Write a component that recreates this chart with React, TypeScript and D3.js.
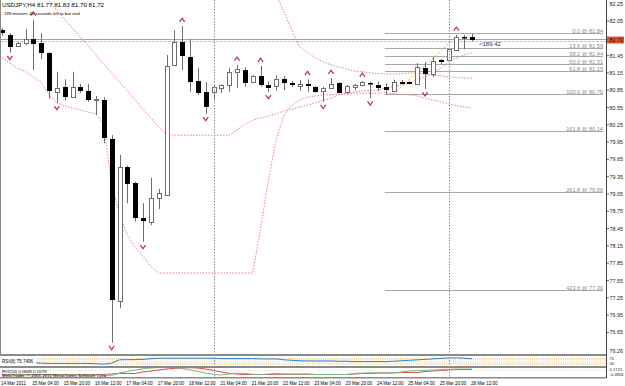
import React from "react";
import * as d3 from "d3";

// ---------- data ----------
const open = [81.89, 81.81, 81.62, 81.67, 81.74, 81.67, 81.5, 80.82, 80.91, 80.73, 80.91, 80.84, 80.68, 80.68, 80.0, 77.2, 79.52, 79.24, 78.63, 78.57, 78.98, 79.03, 81.29, 81.69, 81.43, 81.01, 80.82, 80.82, 80.89, 80.95, 81.16, 81.2, 81.0, 81.1, 80.94, 80.91, 81.04, 80.98, 80.91, 80.95, 80.9, 80.82, 80.88, 80.98, 80.81, 80.9, 80.94, 80.98, 80.94, 80.91, 80.85, 81.0, 81.0, 80.96, 81.23, 81.13, 81.37, 81.37, 81.55, 81.77, 81.77];
const high = [81.93, 81.84, 81.69, 81.91, 82.07, 81.84, 81.51, 81.17, 81.04, 81.17, 80.96, 80.96, 80.75, 80.73, 80.07, 79.73, 79.54, 79.26, 78.89, 79.33, 79.14, 81.46, 81.89, 81.96, 81.74, 81.24, 80.99, 80.94, 80.95, 81.24, 81.29, 81.25, 81.11, 81.27, 81.0, 81.11, 81.1, 81.01, 81.03, 81.04, 80.92, 80.91, 81.06, 80.99, 80.94, 80.96, 81.01, 81.0, 81.0, 80.97, 81.03, 81.03, 81.01, 81.32, 81.34, 81.42, 81.39, 81.58, 81.81, 81.81, 81.83];
const low = [81.79, 81.5, 81.6, 81.63, 81.2, 81.39, 80.7, 80.63, 80.68, 80.72, 80.8, 80.65, 80.42, 79.93, 76.47, 77.07, 78.89, 78.57, 78.22, 78.51, 78.79, 79.02, 81.27, 81.2, 80.82, 80.77, 80.44, 80.68, 80.8, 80.82, 80.89, 80.91, 80.97, 80.91, 80.82, 80.84, 80.85, 80.91, 80.84, 80.82, 80.81, 80.65, 80.87, 80.8, 80.78, 80.85, 80.92, 80.71, 80.84, 80.78, 80.84, 80.96, 80.96, 80.94, 80.87, 81.08, 81.3, 81.36, 81.53, 81.56, 81.7];
const close = [81.83, 81.6, 81.67, 81.74, 81.65, 81.5, 80.84, 80.89, 80.73, 80.91, 80.84, 80.68, 80.7, 80.02, 77.21, 79.52, 79.22, 78.63, 78.58, 78.98, 79.06, 81.27, 81.69, 81.44, 81.0, 80.8, 80.56, 80.91, 80.94, 81.17, 81.21, 80.98, 81.1, 80.94, 80.88, 81.04, 80.97, 80.94, 80.95, 80.91, 80.82, 80.88, 80.95, 80.81, 80.92, 80.94, 80.99, 80.97, 80.89, 80.85, 81.0, 80.97, 80.97, 81.26, 81.13, 81.36, 81.33, 81.56, 81.78, 81.75, 81.72];

const fractalUp = [4, 23, 30, 33, 39, 42, 46, 58];
const fractalDown = [1, 7, 14, 18, 26, 34, 41, 47, 54];

const N = null;
const bandA = [N, N, N, N, N, 82.55, 82.4, 82.24, 82.08, 81.93, 81.77, 81.62, 81.46, 81.3, 81.15, 80.99, 80.84, 80.68, 80.52, 80.37, 80.21, 80.09, 80.07, 80.07, 80.07, 80.07, 80.07, 80.07, 80.07, 80.07, 80.16, 80.26, 80.33, 80.37, 80.4, 80.44, 80.49, 80.52, 80.56, 80.59, 80.63, 80.68, 80.71, 80.77, 80.8, 80.82, 80.84, 80.845, 80.85, 80.89, 80.91, 80.94, 80.97, 81.03, 81.08, 81.15, 81.23, 81.34, 81.41, 81.46, 81.5];
const bandB = [81.41, 81.32, 81.23, 81.17, 81.08, 80.99, 80.77, 80.63, 80.58, 80.54, 80.51, 80.47, 80.44, 80.25, 79.21, 78.69, 78.34, 78.13, 77.97, 77.8, 77.68, 77.68, 77.68, 77.68, 77.68, 77.68, 77.68, 77.68, 77.68, 77.68, 77.68, 77.68, 77.68, 78.43, 79.29, 79.99, 80.42, 80.59, 80.68, 80.73, 80.75, 80.77, 80.77, 80.78, 80.78, 80.8, 80.8, 80.8, 80.8, 80.8, 80.79, 80.78, 80.77, 80.75, 80.71, 80.68, 80.65, 80.61, 80.585, 80.56, 80.54];
const bandC = [N, N, N, N, N, N, N, N, N, N, N, N, N, N, N, N, N, N, N, N, N, N, N, N, N, N, N, N, N, N, N, N, N, N, N, 82.5, 82.21, 81.89, 81.6, 81.5, 81.41, 81.34, 81.29, 81.25, 81.22, 81.18, 81.17, 81.15, 81.14, 81.13, 81.13, 81.14, 81.15, 81.15, 81.13, 81.11, 81.1, 81.08, 81.07, 81.06, 81.06];

const rsi = [35, 35, 35, 35, 33, 30, 27, 27, 27, 27, 27, 27, 23, 20, 30, 65, 67, 67, 70, 77, 82, 82, 82, 82, 82, 82, 82, 82, 78, 78, 78, 78, 78, 75, 75, 75, 65, 60, 55, 53, 53, 53, 53, 50, 50, 47, 47, 47, 47, 47, 50, 55, 60, 65, 70, 75, 80, 85, 86, 82, 76];
const rsiLevels = [20, 30, 50, 70, 80];
const rviMain = [-0.343, -0.343, -0.343, -0.343, -0.343, -0.343, -0.343, -0.343, -0.343, -0.343, -0.343, -0.343, -0.343, -0.343, -0.38, -0.197, -0.087, 0.023, 0.119, 0.17, 0.207, 0.221, 0.207, 0.133, 0.023, -0.087, -0.197, -0.306, -0.343, -0.27, -0.218, -0.233, -0.292, -0.306, -0.27, -0.233, -0.27, -0.27, -0.27, -0.27, -0.306, -0.306, -0.306, -0.306, -0.306, -0.233, -0.197, -0.182, -0.182, -0.182, -0.182, -0.123, -0.05, -0.013, 0.001, 0.023, 0.045, 0.075, 0.097, 0.097, 0.097];
const rviSignal = [-0.306, -0.306, -0.306, -0.306, -0.306, -0.306, -0.306, -0.306, -0.306, -0.306, -0.306, -0.306, -0.306, -0.306, -0.27, -0.233, -0.233, -0.233, -0.123, -0.05, 0.023, 0.097, 0.148, 0.17, 0.192, 0.17, 0.097, -0.013, -0.123, -0.218, -0.27, -0.306, -0.306, -0.306, -0.306, -0.292, -0.292, -0.292, -0.292, -0.292, -0.306, -0.306, -0.306, -0.306, -0.306, -0.27, -0.233, -0.233, -0.197, -0.197, -0.197, -0.16, -0.16, -0.16, -0.087, -0.05, -0.013, 0.023, 0.06, 0.06, 0.06];

const timeTickBars = [0, 4, 8, 12, 16, 20, 24, 28, 32, 36, 40, 44, 48, 52, 56, 60];
const timeTickText = ["14 Mar 2011", "15 Mar 04:00", "15 Mar 20:00", "16 Mar 12:00", "17 Mar 04:00", "17 Mar 20:00", "18 Mar 12:00", "21 Mar 04:00", "21 Mar 20:00", "22 Mar 12:00", "23 Mar 04:00", "23 Mar 20:00", "24 Mar 12:00", "25 Mar 04:00", "25 Mar 20:00", "28 Mar 12:00"];
const separatorBars = [27, 57];

const priceTicks = [82.05, 81.75, 81.45, 81.15, 80.85, 80.55, 80.25, 79.95, 79.65, 79.35, 79.05, 78.75, 78.45, 78.15, 77.85, 77.55, 77.25, 76.95, 76.65];
const chartMax = "82.25";
const chartMin = "76.26";
const bid = 81.72;

const fibLevels = [0, 23.6, 38.2, 50, 61.8, 100, 161.8, 261.8, 423.6];
const fibPrices = [81.84, 81.59, 81.44, 81.31, 81.19, 80.79, 80.14, 79.09, 77.39];
const fibStartBar = 49;
const fibTrendBars = [50, 58.5];
const fibTrendPrices = [80.79, 81.84];

const title = "USDJPY,H4  81.77 81.83 81.70 81.72";
const subtitle = "189 minutes 42 seconds left to bar end";
const pipText = "<189.42";
const rsiLabel = "RSI(8) 75.7496";
const rviLabel = "RVI(10) 0.0848 0.1679";
const copyright = "MetaTrader, \u00a9 2001-2011 MetaQuotes Software Corp.";
const rviTicks = ["0.1721", "-0.4906"];

// ---------- layout ----------
const W = 625, H = 386;
const AXIS_X = 606;
const MAIN_BOTTOM = 354;
const RSI_TOP = 356.5, RSI_BOTTOM = 366;
const RVI_TOP = 368, RVI_BOTTOM = 377;
const FONT = "'Liberation Sans', Arial, sans-serif";

export default function App() {
  const x = d3.scaleLinear().domain([0, 60]).range([2, 472]);
  const y = d3.scaleLinear().domain([82.05, 76.35]).range([21, 349.7]);
  const yr = d3.scaleLinear().domain([0, 100]).range([RSI_BOTTOM, RSI_TOP]);
  const yv = d3.scaleLinear().domain([-0.4906, 0.1721]).range([RVI_BOTTOM, RVI_TOP]);
  const cx = (i: number) => Math.round(x(i)) + 0.5;

  const bandLine = d3
    .line<number | null>()
    .defined((d) => d != null)
    .x((_, i) => x(i))
    .y((d) => y(d as number));
  const rsiLine = d3.line<number>().x((_, i) => x(i)).y((d) => yr(d));
  const rviLine = d3.line<number>().x((_, i) => x(i)).y((d) => yv(d));

  const bidY = y(bid);

  return (
    <svg width={W} height={H} style={{ position: "absolute", left: 0, top: 0, background: "#fff" }} fontFamily={FONT}>
      <defs>
        <clipPath id="mainClip"><rect x={0} y={0} width={AXIS_X} height={MAIN_BOTTOM} /></clipPath>
        <clipPath id="rsiClip"><rect x={0} y={RSI_TOP - 1} width={AXIS_X} height={RSI_BOTTOM - RSI_TOP + 1} /></clipPath>
        <clipPath id="rviClip"><rect x={0} y={RVI_TOP - 1} width={AXIS_X} height={RVI_BOTTOM - RVI_TOP + 1} /></clipPath>
      </defs>
      <rect x={0} y={0} width={W} height={H} fill="#fff" />

      {/* main window */}
      <g clipPath="url(#mainClip)">
        {fibPrices.map((p, k) => (
          <g key={"fib" + k}>
            <line x1={x(fibStartBar) - 1} x2={603} y1={Math.round(y(p)) + 0.5} y2={Math.round(y(p)) + 0.5} stroke="#a8a8a8" strokeWidth={1} />
            <text x={603} y={Math.round(y(p)) - 0.5} fontSize={5.6} fill="#8a8a8a" textAnchor="end">
              {fibLevels[k].toFixed(1) + " @ " + p.toFixed(2)}
            </text>
          </g>
        ))}
        <line
          x1={x(fibTrendBars[0])} y1={y(fibTrendPrices[0])}
          x2={x(fibTrendBars[1])} y2={y(fibTrendPrices[1])}
          stroke="#f4b040" strokeWidth={1} strokeDasharray="2,2"
        />
        <line x1={0} x2={AXIS_X} y1={Math.round(bidY) - 0.5} y2={Math.round(bidY) - 0.5} stroke="#f08868" strokeWidth={1} />
        <line x1={0} x2={AXIS_X} y1={Math.round(bidY) + 1.5} y2={Math.round(bidY) + 1.5} stroke="#c4c4c4" strokeWidth={1} strokeDasharray="3,1" />

        {[bandA, bandB, bandC].map((b, k) => (
          <path key={"band" + k} d={bandLine(b) || ""} fill="none" stroke="#f07a8a" strokeWidth={1} strokeDasharray="1.5,1.5" />
        ))}

        {open.map((o, i) => {
          const c = close[i];
          const X = cx(i);
          const top = Math.min(y(o), y(c));
          const bot = Math.max(y(o), y(c));
          const bull = c >= o;
          return (
            <g key={"c" + i}>
              <line x1={X} x2={X} y1={y(high[i])} y2={y(low[i])} stroke="#6e6e6e" strokeWidth={1} />
              {bull ? (
                <rect x={X - 2} y={Math.round(top) + 0.5} width={4} height={Math.max(1, Math.round(bot - top))} fill="#fff" stroke="#6e6e6e" strokeWidth={1} />
              ) : (
                <rect x={X - 2.5} y={Math.round(top)} width={5} height={Math.max(1.5, Math.round(bot - top))} fill="#000" />
              )}
            </g>
          );
        })}

        {fractalUp.map((i) => {
          const X = x(i), Y = y(high[i]) - 6;
          return <path key={"fu" + i} d={`M${X - 2.6},${Y + 1.8} L${X},${Y - 1.8} L${X + 2.6},${Y + 1.8}`} fill="none" stroke="#c8354c" strokeWidth={1.3} />;
        })}
        {fractalDown.map((i) => {
          const X = x(i), Y = y(low[i]) + 5;
          return <path key={"fd" + i} d={`M${X - 2.6},${Y - 1.8} L${X},${Y + 1.8} L${X + 2.6},${Y - 1.8}`} fill="none" stroke="#c8354c" strokeWidth={1.3} />;
        })}

        <text x={x(60) + 7} y={bidY + 6} fontSize={6} fill="#333">{pipText}</text>
      </g>

      <line x1={0.5} x2={0.5} y1={0} y2={MAIN_BOTTOM} stroke="#888" strokeWidth={1} />

      <text x={2} y={7} fontSize={6.2} fill="#000">{title}</text>
      <text x={4} y={14.5} fontSize={4.4} fill="#000">{subtitle}</text>

      <g clipPath="url(#rsiClip)">
        {rsiLevels.map((lv) => (
          <line key={"lv" + lv} x1={37} x2={AXIS_X} y1={yr(lv)} y2={yr(lv)} stroke="#f5c25a" strokeWidth={0.8} strokeDasharray="1,1.2" />
        ))}
        <path d={rsiLine(rsi) || ""} fill="none" stroke="#2a7fd6" strokeWidth={1} />
      </g>
      <rect x={1} y={RSI_TOP} width={35} height={RSI_BOTTOM - RSI_TOP} fill="#fff" />
      <text x={2} y={362.5} fontSize={4.6} fill="#000">{rsiLabel}</text>

      <g clipPath="url(#rviClip)">
        <line x1={0} x2={AXIS_X} y1={yv(0)} y2={yv(0)} stroke="#d8d8d8" strokeWidth={0.8} strokeDasharray="1,1.2" />
        <path d={rviLine(rviSignal) || ""} fill="none" stroke="#e04848" strokeWidth={1} />
        <path d={rviLine(rviMain) || ""} fill="none" stroke="#6fbf7f" strokeWidth={1} />
      </g>
      <text x={2} y={372.5} fontSize={4.4} fill="#000">{rviLabel}</text>
      <text x={2} y={376.5} fontSize={4.4} fill="#000">{copyright}</text>

      {separatorBars.map((b) => (
        <line key={"sep" + b} x1={cx(b)} x2={cx(b)} y1={0} y2={378} stroke="#8c8c8c" strokeWidth={1} strokeDasharray="1.5,1.5" />
      ))}

      {[MAIN_BOTTOM, RSI_BOTTOM, RVI_BOTTOM].map((yy, k) => (
        <rect key={"ws" + k} x={0} y={yy} width={AXIS_X} height={k === 2 ? 1.5 : 2} fill="#8a8a8a" />
      ))}

      <line x1={AXIS_X + 0.5} x2={AXIS_X + 0.5} y1={0} y2={378} stroke="#444" strokeWidth={1} />
      {priceTicks.map((p) => {
        const ty = y(p);
        if (Math.abs(ty - bidY) < 5) return null;
        return (
          <g key={"pt" + p}>
            <line x1={AXIS_X} x2={AXIS_X + 3} y1={ty} y2={ty} stroke="#444" strokeWidth={0.8} />
            <text x={AXIS_X + 3.5} y={ty + 2} fontSize={5.4} fill="#222">{p.toFixed(2)}</text>
          </g>
        );
      })}
      <text x={AXIS_X + 3.5} y={6} fontSize={5.4} fill="#222">{chartMax}</text>
      <text x={AXIS_X + 3.5} y={353} fontSize={5.4} fill="#222">{chartMin}</text>
      <rect x={AXIS_X + 1} y={bidY - 3.5} width={17} height={7} fill="#e0502e" />
      <text x={AXIS_X + 3.5} y={bidY + 2} fontSize={5.4} fill="#111">{bid.toFixed(2)}</text>
      <text x={AXIS_X + 3.5} y={360} fontSize={4} fill="#222">70</text>
      <text x={AXIS_X + 3.5} y={365} fontSize={4} fill="#222">30</text>
      <text x={AXIS_X + 3.5} y={371} fontSize={4.2} fill="#222">{rviTicks[0]}</text>
      <text x={AXIS_X + 3.5} y={376} fontSize={4.2} fill="#222">{rviTicks[1]}</text>

      {timeTickBars.map((b, k) => (
        <text key={"tt" + b} x={b === 0 ? 1 : x(b) - 1} y={384.5} fontSize={4.5} fill="#000">{timeTickText[k]}</text>
      ))}
    </svg>
  );
}
